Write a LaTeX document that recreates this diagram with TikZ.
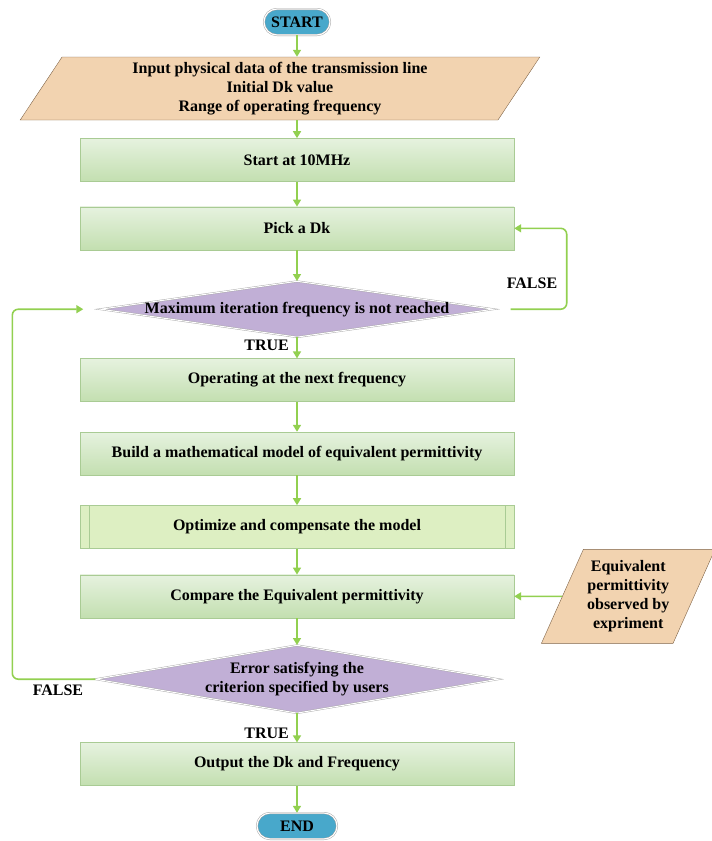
\documentclass[tikz,border=0pt]{standalone}
\usepackage{fontspec}
\setmainfont{Liberation Serif}
\usetikzlibrary{shapes.geometric, arrows.meta, positioning}
\definecolor{flowgreen}{HTML}{92D050}
\definecolor{boxtop}{HTML}{E6F2DF}
\definecolor{boxbot}{HTML}{C3DFB0}
\definecolor{boxline}{HTML}{A9CB94}
\definecolor{optfill}{HTML}{DDEFC2}
\definecolor{decfill}{HTML}{C1AFD6}
\definecolor{iofill}{HTML}{F2D3B0}
\definecolor{ioline}{HTML}{7F6347}
\definecolor{termfill}{HTML}{48A8CB}

\begin{document}
\begin{tikzpicture}[
    x=1pt, y=-1pt,
    font=\fontsize{16}{19}\selectfont\bfseries,
    process/.style={rectangle, draw=boxline, top color=boxtop, bottom color=boxbot, minimum width=434pt, minimum height=43pt, align=center},
    subproc/.style={rectangle, draw=boxline, fill=optfill, minimum width=434pt, minimum height=43pt, align=center},
    terminal/.style={rectangle, rounded corners=13pt, draw=gray!80, double=white, double distance=1.2pt, fill=termfill, minimum width=66pt, minimum height=26pt},
    decision/.style={diamond, draw=gray!70, double=white, double distance=1pt, fill=decfill, inner sep=0pt, align=center},
    io/.style={trapezium, trapezium stretches=true, draw=ioline, fill=iofill, align=center},
    flow/.style={draw=flowgreen, line width=1.6pt, -{Triangle[width=8pt,length=7pt]}},
    tag/.style={font=\fontsize{16}{19}\selectfont\bfseries}
]
    \useasboundingbox (0,0) rectangle (712,841);

    \node[terminal] (start) at (297,22) {START};
    \node[io, trapezium left angle=64, trapezium right angle=116, minimum width=520pt, minimum height=63pt] (input) at (280,88.5)
        {Input physical data of the transmission line\\Initial Dk value\\Range of operating frequency};
    \coordinate (inbot) at (input.south -| start);
    \node[process, below=18pt of inbot] (startf) {Start at 10MHz};
    \node[process, below=25pt of startf] (pick) {Pick a Dk};
    \node[decision, aspect=7, minimum width=393pt, minimum height=56pt, below=31pt of pick] (maxit)
        {\makebox[240pt][c]{Maximum iteration frequency is not reached}};
    \node[process, below=21pt of maxit] (nextf) {Operating at the next frequency};
    \node[process, below=30pt of nextf] (model) {Build a mathematical model of equivalent permittivity};
    \node[subproc, below=30pt of model] (optim) {Optimize and compensate the model};
    \node[process, below=26pt of optim] (compare) {Compare the Equivalent permittivity};
    \node[decision, aspect=5.8, minimum width=403pt, minimum height=68pt, below=27pt of compare] (err) {Error satisfying the\\criterion specified by users};
    \node[process, below=29pt of err] (output) {Output the Dk and Frequency};
    \node[terminal, minimum width=80pt, below=27pt of output] (end) {END};
    \node[io, trapezium left angle=62, trapezium right angle=118, minimum width=174pt, minimum height=94pt, right=48pt of compare] (measure)
        {Equivalent\\permittivity\\observed by\\expriment};

    % inner bars of the predefined process
    \draw[boxline] ([xshift=9pt]optim.north west) -- ([xshift=9pt]optim.south west);
    \draw[boxline] ([xshift=-9pt]optim.north east) -- ([xshift=-9pt]optim.south east);

    \path[flow] (start) -- (start |- input.north);
    \path[flow] (inbot) -- (startf);
    \path[flow] (startf) -- (pick);
    \path[flow] (pick) -- (maxit);
    \path[flow] (maxit) -- node[tag, left=4pt, pos=0.4] {TRUE} (nextf);
    \path[flow] (nextf) -- (model);
    \path[flow] (model) -- (optim);
    \path[flow] (optim) -- (compare);
    \path[flow] (compare) -- (err);
    \path[flow] (err) -- node[tag, left=4pt, pos=0.69] {TRUE} (output);
    \path[flow] (output) -- (end);
    \path[flow] (measure) -- (compare);

    % loop back to Pick a Dk
    \path[flow, rounded corners=6pt] ([xshift=17pt]maxit.east) -- ++(56,0) |- (pick.east);
    \node[tag] at (532,283) {FALSE};
    % loop back to the frequency check
    \path[flow, rounded corners=6pt] (err.west) -- node[tag, below=2pt, pos=0.45] {FALSE} ++(-83,0) |- ([xshift=-17pt]maxit.west);
\end{tikzpicture}
\end{document}
